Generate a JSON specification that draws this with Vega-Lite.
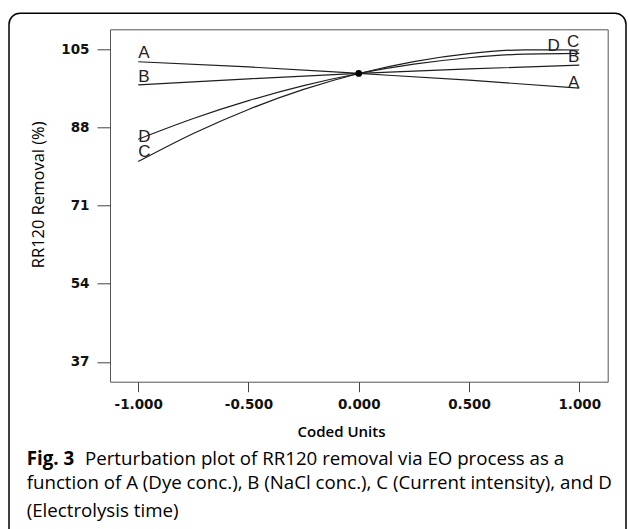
{
  "$schema": "https://vega.github.io/schema/vega-lite/v6.json",
  "autosize": {"type": "none"},
  "padding": {"left": 110, "top": 29.3, "right": 21.3, "bottom": 147.3},
  "width": 497.7,
  "height": 352.4,
  "background": "white",
  "config": {
    "view": {"stroke": "#555", "strokeWidth": 1},
    "axis": {
      "labelFont": "DejaVu Sans",
      "labelFontSize": 13.5,
      "labelFontWeight": "bold",
      "labelColor": "#111",
      "domain": false,
      "grid": false,
      "tickColor": "#444",
      "tickWidth": 1
    },
    "axisX": {"tickSize": 10, "labelPadding": 6, "labelFlush": false},
    "axisY": {"tickSize": 13, "labelPadding": 8}
  },
  "datasets": {
    "curves": [
      {"series": "A", "x": -1, "y": 102.25},
      {"series": "A", "x": -0.5, "y": 101.12},
      {"series": "A", "x": 0, "y": 99.7},
      {"series": "A", "x": 0.5, "y": 98.24},
      {"series": "A", "x": 1, "y": 96.5},
      {"series": "B", "x": -1, "y": 97.2},
      {"series": "B", "x": -0.5, "y": 98.54},
      {"series": "B", "x": 0, "y": 99.7},
      {"series": "B", "x": 0.5, "y": 100.69},
      {"series": "B", "x": 1, "y": 101.5},
      {"series": "C", "x": -1, "y": 80.55},
      {"series": "C", "x": -0.75, "y": 86.65},
      {"series": "C", "x": -0.5, "y": 91.88},
      {"series": "C", "x": -0.25, "y": 96.23},
      {"series": "C", "x": 0, "y": 99.7},
      {"series": "C", "x": 0.25, "y": 102.29},
      {"series": "C", "x": 0.5, "y": 104.01},
      {"series": "C", "x": 0.75, "y": 104.84},
      {"series": "C", "x": 1, "y": 104.8},
      {"series": "D", "x": -1, "y": 85.4},
      {"series": "D", "x": -0.75, "y": 89.91},
      {"series": "D", "x": -0.5, "y": 93.79},
      {"series": "D", "x": -0.25, "y": 97.06},
      {"series": "D", "x": 0, "y": 99.7},
      {"series": "D", "x": 0.25, "y": 101.72},
      {"series": "D", "x": 0.5, "y": 103.12},
      {"series": "D", "x": 0.75, "y": 103.9},
      {"series": "D", "x": 1, "y": 104.05}
    ],
    "leftLabels": [
      {"series": "A", "x": -1, "y": 102.98},
      {"series": "B", "x": -1, "y": 97.9},
      {"series": "D", "x": -1, "y": 84.87},
      {"series": "C", "x": -1, "y": 81.62}
    ],
    "rightLabels": [
      {"series": "C", "x": 1, "y": 105.5},
      {"series": "D", "x": 0.912, "y": 104.63},
      {"series": "B", "x": 1, "y": 102.24},
      {"series": "A", "x": 1, "y": 96.47}
    ]
  },
  "layer": [
    {
      "data": {"name": "curves"},
      "mark": {"type": "line", "interpolate": "monotone", "strokeWidth": 1.2, "color": "#1e1e1e"},
      "encoding": {
        "x": {
          "field": "x",
          "type": "quantitative",
          "title": "Coded Units",
          "scale": {"domain": [-1.128, 1.129], "nice": false, "zero": false},
          "axis": {
            "values": [-1, -0.5, 0, 0.5, 1],
            "labelExpr": "(datum.value < 0 ? '-' : '') + format(abs(datum.value), '.3f')",
            "titleFont": "Open Sans",
            "titleFontSize": 15,
            "titleFontWeight": 600,
            "titleColor": "#000",
            "titleX": 231,
            "titleY": 55,
            "titleAlign": "center",
            "titleBaseline": "alphabetic"
          }
        },
        "y": {
          "field": "y",
          "type": "quantitative",
          "title": "RR120 Removal (%)",
          "scale": {"domain": [32.7, 109.3], "nice": false, "zero": false},
          "axis": {
            "values": [37, 54, 71, 88, 105],
            "titleFont": "Open Sans",
            "titleFontSize": 16.5,
            "titleFontWeight": "normal",
            "titleColor": "#000",
            "titleAngle": -90,
            "titleX": -72,
            "titleY": 165,
            "titleAlign": "center",
            "titleBaseline": "middle"
          }
        },
        "detail": {"field": "series"}
      }
    },
    {
      "data": {"values": [{}]},
      "mark": {"type": "rect", "filled": false, "stroke": "#000", "strokeWidth": 1.5, "cornerRadius": 11, "clip": false},
      "encoding": {
        "x": {"datum": -1.586, "type": "quantitative"},
        "x2": {"datum": 1.212},
        "y": {"datum": -2.66, "type": "quantitative"},
        "y2": {"datum": 112.77}
      }
    },
    {
      "data": {"name": "curves"},
      "transform": [{"filter": "datum.x === 0 && datum.series === 'A'"}],
      "mark": {"type": "point", "filled": true, "color": "#000", "size": 45, "opacity": 1},
      "encoding": {
        "x": {"field": "x", "type": "quantitative"},
        "y": {"field": "y", "type": "quantitative"}
      }
    },
    {
      "data": {"name": "leftLabels"},
      "mark": {"type": "text", "align": "left", "baseline": "alphabetic", "font": "Liberation Sans", "fontSize": 17, "color": "#222"},
      "encoding": {
        "x": {"field": "x", "type": "quantitative"},
        "y": {"field": "y", "type": "quantitative"},
        "text": {"field": "series"}
      }
    },
    {
      "data": {"name": "rightLabels"},
      "mark": {"type": "text", "align": "right", "baseline": "alphabetic", "font": "Liberation Sans", "fontSize": 17, "color": "#222"},
      "encoding": {
        "x": {"field": "x", "type": "quantitative"},
        "y": {"field": "y", "type": "quantitative"},
        "text": {"field": "series"}
      }
    },
    {
      "data": {"values": [{}]},
      "mark": {"type": "text", "text": "Fig. 3", "align": "left", "baseline": "alphabetic", "font": "Open Sans", "fontSize": 18.7, "fontWeight": "bold", "color": "#000"},
      "encoding": {
        "x": {"datum": -1.5058, "type": "quantitative"},
        "y": {"datum": 14.49, "type": "quantitative"}
      }
    },
    {
      "data": {"values": [{}]},
      "mark": {"type": "text", "text": "Perturbation plot of RR120 removal via EO process as a", "align": "left", "baseline": "alphabetic", "font": "Open Sans", "fontSize": 18.7, "color": "#000"},
      "encoding": {
        "x": {"datum": -1.2414, "type": "quantitative"},
        "y": {"datum": 14.49, "type": "quantitative"}
      }
    },
    {
      "data": {"values": [{}]},
      "mark": {"type": "text", "text": "function of A (Dye conc.), B (NaCl conc.), C (Current intensity), and D", "align": "left", "baseline": "alphabetic", "font": "Open Sans", "fontSize": 18.7, "color": "#000"},
      "encoding": {
        "x": {"datum": -1.5058, "type": "quantitative"},
        "y": {"datum": 9.28, "type": "quantitative"}
      }
    },
    {
      "data": {"values": [{}]},
      "mark": {"type": "text", "text": "(Electrolysis time)", "align": "left", "baseline": "alphabetic", "font": "Open Sans", "fontSize": 18.7, "color": "#000"},
      "encoding": {
        "x": {"datum": -1.5058, "type": "quantitative"},
        "y": {"datum": 3.2, "type": "quantitative"}
      }
    }
  ]
}
